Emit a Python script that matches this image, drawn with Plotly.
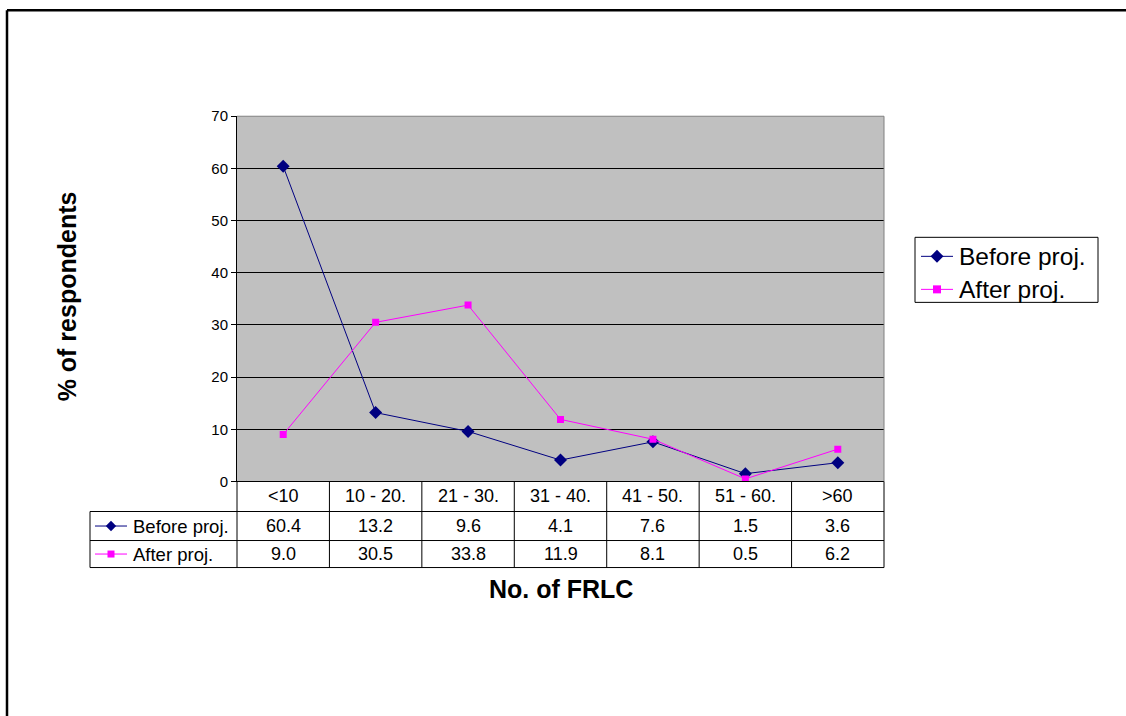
import plotly.graph_objects as go

categories = ["<10", "10 - 20.", "21 - 30.", "31 - 40.", "41 - 50.", "51 - 60.", ">60"]
before_proj = [60.4, 13.2, 9.6, 4.1, 7.6, 1.5, 3.6]
after_proj = [9.0, 30.5, 33.8, 11.9, 8.1, 0.5, 6.2]
series_names = ["Before proj.", "After proj."]
y_ticks = [0, 10, 20, 30, 40, 50, 60, 70]

W, H = 1126, 716
FONT = "Arial, Liberation Sans, sans-serif"
NAVY = "#000080"
MAGENTA = "#FF00FF"


def sy(y):
    # target screen row -> figure pixel row (compensates page capture offset/scale)
    return (y - 8.83) / 0.9756


def px(x):
    return x / W


def py(y):
    return 1 - sy(y) / H


L, R, T, B = 237, 884, 116, 481          # plot area (screen px)
ROW_HDR, ROW1, ROW2 = 511, 540, 567       # table row bottoms
TABLE_LEFT = 90
ncat = len(categories)
xs = list(range(ncat))

fig = go.Figure()
fig.add_trace(go.Scatter(x=xs, y=before_proj, name=series_names[0], mode="lines+markers",
                         line=dict(color=NAVY, width=1), showlegend=False,
                         marker=dict(symbol="diamond", size=10, color=NAVY)))
fig.add_trace(go.Scatter(x=xs, y=after_proj, name=series_names[1], mode="lines+markers",
                         line=dict(color=MAGENTA, width=1), showlegend=False,
                         marker=dict(symbol="square", size=7, color=MAGENTA)))

# legend keys (table + legend box) drawn on a pixel overlay subplot
key_y_table = [(ROW_HDR + ROW1) / 2, (ROW1 + ROW2) / 2]
key_y_legend = [256, 289]
styles = [(NAVY, "diamond"), (MAGENTA, "square")]
for (col, sym), ky_t, ky_l in zip(styles, key_y_table, key_y_legend):
    for x0, x1, yk, msz in [(95, 127, ky_t, 8 if sym == "diamond" else 7),
                            (921, 953, ky_l, 10 if sym == "diamond" else 8)]:
        fig.add_trace(go.Scatter(x=[x0, x1], y=[sy(yk), sy(yk)], mode="lines", xaxis="x2", yaxis="y2",
                                 line=dict(color=col, width=1), showlegend=False, hoverinfo="skip"))
        fig.add_trace(go.Scatter(x=[(x0 + x1) / 2], y=[sy(yk)], mode="markers", xaxis="x2", yaxis="y2",
                                 marker=dict(symbol=sym, size=msz if sym == "square" else msz, color=col),
                                 showlegend=False, hoverinfo="skip", cliponaxis=False))

shapes = []
shapes.append(dict(type="rect", xref="x domain", yref="y domain", x0=0, x1=1, y0=0, y1=1,
                   fillcolor="#C0C0C0", line=dict(width=0), layer="below"))
# outer frame (top & left)
shapes.append(dict(type="line", xref="paper", yref="paper", x0=px(7), x1=1.02,
                   y0=1 - 1.2 / H, y1=1 - 1.2 / H, line=dict(color="black", width=2.5)))
shapes.append(dict(type="line", xref="paper", yref="paper", x0=px(7), x1=px(7),
                   y0=1 - 1.2 / H, y1=-0.02, line=dict(color="black", width=2.5)))
# plot border top/right
shapes.append(dict(type="line", xref="paper", yref="paper", x0=px(L), x1=px(R), y0=py(T), y1=py(T),
                   line=dict(color="#808080", width=1)))
shapes.append(dict(type="line", xref="paper", yref="paper", x0=px(R), x1=px(R), y0=py(T), y1=py(B),
                   line=dict(color="#808080", width=1)))
# data table grid
for yy in [ROW_HDR, ROW1, ROW2]:
    shapes.append(dict(type="line", xref="paper", yref="paper", x0=px(TABLE_LEFT), x1=px(R),
                       y0=py(yy), y1=py(yy), line=dict(color="black", width=1)))
for k in range(ncat + 1):
    xx = L + k * (R - L) / ncat
    shapes.append(dict(type="line", xref="paper", yref="paper", x0=px(xx), x1=px(xx),
                       y0=py(B), y1=py(ROW2), line=dict(color="black", width=1)))
shapes.append(dict(type="line", xref="paper", yref="paper", x0=px(TABLE_LEFT), x1=px(TABLE_LEFT),
                   y0=py(ROW_HDR), y1=py(ROW2), line=dict(color="black", width=1)))
# legend box
shapes.append(dict(type="rect", xref="paper", yref="paper", x0=px(915), x1=px(1098),
                   y0=py(302), y1=py(237), fillcolor="white", line=dict(color="black", width=1),
                   layer="below"))

annotations = []
cell_font = dict(family=FONT, size=18, color="black")
for i, c in enumerate(categories):
    annotations.append(dict(x=i, xref="x", y=py((B + ROW_HDR) / 2), yref="paper", text=c,
                            showarrow=False, font=cell_font, xanchor="center", yanchor="middle"))
    annotations.append(dict(x=i, xref="x", y=py(key_y_table[0]), yref="paper",
                            text=f"{before_proj[i]:.1f}", showarrow=False, font=cell_font,
                            xanchor="center", yanchor="middle"))
    annotations.append(dict(x=i, xref="x", y=py(key_y_table[1]), yref="paper",
                            text=f"{after_proj[i]:.1f}", showarrow=False, font=cell_font,
                            xanchor="center", yanchor="middle"))
for name, ky_t, ky_l in zip(series_names, key_y_table, key_y_legend):
    annotations.append(dict(x=px(131), xref="paper", y=py(ky_t), yref="paper", text=name,
                            showarrow=False, font=dict(family=FONT, size=18.5, color="black"),
                            xanchor="left", yanchor="middle"))
    annotations.append(dict(x=px(957), xref="paper", y=py(ky_l), yref="paper", text=name,
                            showarrow=False, font=dict(family=FONT, size=24.5, color="black"),
                            xanchor="left", yanchor="middle"))
annotations.append(dict(x=px((L + R) / 2), xref="paper", y=py(588), yref="paper",
                        text="<b>No. of FRLC</b>", showarrow=False,
                        font=dict(family=FONT, size=25, color="black"),
                        xanchor="center", yanchor="middle"))
annotations.append(dict(x=px(67), xref="paper", y=py(296), yref="paper",
                        text="<b>% of respondents</b>", showarrow=False, textangle=-90,
                        font=dict(family=FONT, size=25, color="black"),
                        xanchor="center", yanchor="middle"))

fig.update_layout(
    width=W, height=H, autosize=False,
    margin=dict(l=0, r=0, t=0, b=0),
    paper_bgcolor="white", plot_bgcolor="rgba(0,0,0,0)",
    font=dict(family=FONT, color="black"),
    xaxis=dict(domain=[px(L), px(R)], range=[-0.5, ncat - 0.5], showticklabels=False,
               showgrid=False, zeroline=False, showline=True, linecolor="black", linewidth=1,
               ticks="", fixedrange=True),
    yaxis=dict(domain=[py(B), py(T)], range=[0, 70], tickvals=y_ticks, ticks="outside",
               ticklen=5, tickcolor="black", showline=True, linecolor="black", linewidth=1,
               showgrid=True, gridcolor="black", gridwidth=1, zeroline=False,
               tickfont=dict(family=FONT, size=15, color="black"), fixedrange=True),
    xaxis2=dict(domain=[0, 1], range=[0, W], visible=False, anchor="y2", fixedrange=True),
    yaxis2=dict(domain=[0, 1], range=[H, 0], visible=False, anchor="x2", fixedrange=True),
    shapes=shapes, annotations=annotations, showlegend=False,
)

fig.write_html("out.html", config={"displayModeBar": False},
               post_script="document.body.style.margin='0';document.body.style.overflow='hidden';")
